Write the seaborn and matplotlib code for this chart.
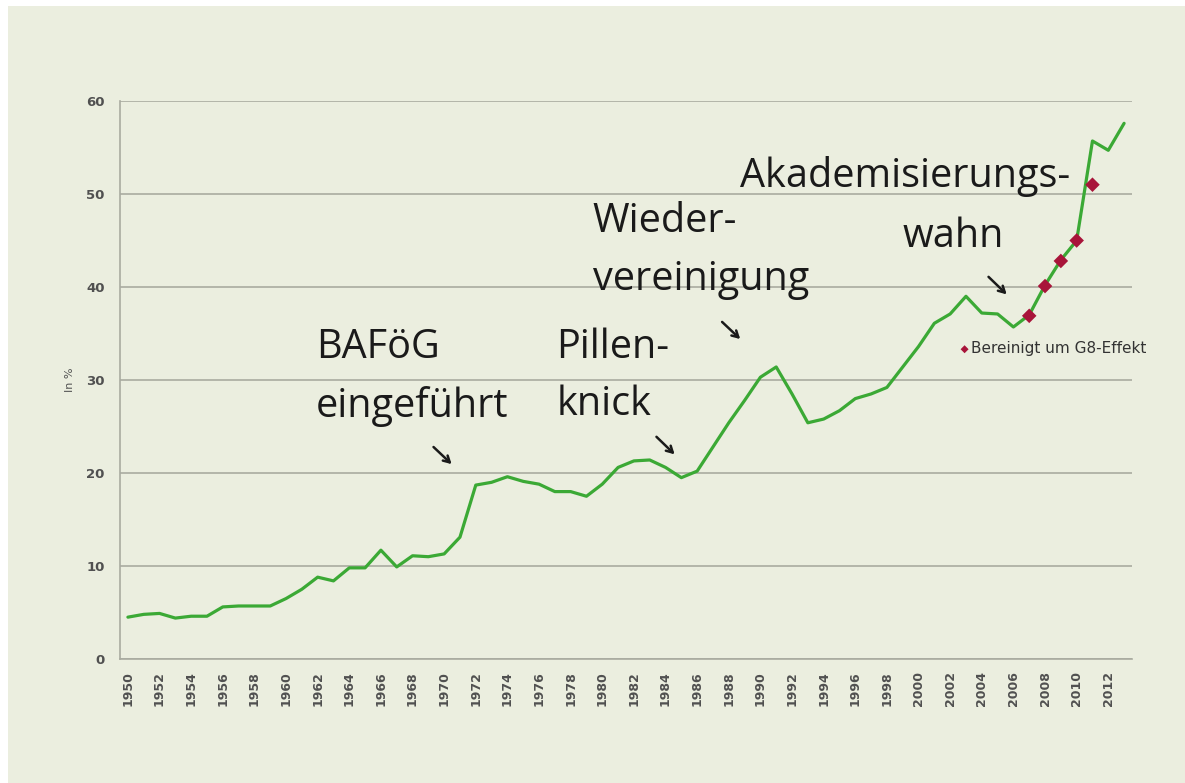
import matplotlib
matplotlib.use("Agg")
import matplotlib.pyplot as plt
import seaborn as sns
import pandas as pd
from matplotlib.patches import Rectangle

# ---- data ----
years = list(range(1950, 2014))
quote = [4.5, 4.8, 4.9, 4.4, 4.6, 4.6, 5.6, 5.7, 5.7, 5.7,
         6.5, 7.5, 8.8, 8.4, 9.8, 9.8, 11.7, 9.9, 11.1, 11.0,
         11.3, 13.1, 18.7, 19.0, 19.6, 19.1, 18.8, 18.0, 18.0, 17.5,
         18.8, 20.6, 21.3, 21.4, 20.6, 19.5, 20.2, 22.8, 25.4, 27.8,
         30.3, 31.4, 28.5, 25.4, 25.8, 26.7, 28.0, 28.5, 29.2, 31.4,
         33.6, 36.1, 37.1, 39.0, 37.2, 37.1, 35.7, 37.0, 40.2, 42.9,
         45.0, 55.7, 54.7, 57.6]
g8_years = [2007, 2008, 2009, 2010, 2011]
g8_quote = [36.9, 40.1, 42.8, 45.0, 51.0]
legend_label = "Bereinigt um G8-Effekt"
y_label = "In %"
y_ticks = [0, 10, 20, 30, 40, 50, 60]
x_tick_years = list(range(1950, 2013, 2))

df = pd.DataFrame({"Jahr": years, "Quote": quote})
dg = pd.DataFrame({"Jahr": g8_years, "Quote": g8_quote})

# ---- style ----
sns.set_style("white")
plt.rcParams["font.family"] = ["Open Sans", "DejaVu Sans"]

BG = "#EBEEDF"
GREEN = "#3BA935"
RED = "#A8143A"
GRID = "#A9ABA0"
TXT = "#505050"

fig = plt.figure(figsize=(11.85, 7.83), dpi=100)
fig.patch.set_facecolor("white")
fig.patches.append(Rectangle((8 / 1185, 0), 1, 1 - 6 / 783, transform=fig.transFigure,
                             facecolor=BG, edgecolor="none", zorder=-10))
ax = fig.add_axes([120 / 1185, 1 - 659 / 783, 1012 / 1185, 558 / 783])
ax.set_facecolor("none")

sns.lineplot(data=df, x="Jahr", y="Quote", color=GREEN, linewidth=2.3, ax=ax, zorder=3)
sns.scatterplot(data=dg, x="Jahr", y="Quote", marker="D", color=RED, s=55,
                edgecolor="none", label=legend_label, ax=ax, zorder=4)

ax.set_xlim(1949.5, 2013.5)
ax.set_ylim(0, 60)
ax.set_yticks(y_ticks)
ax.set_xticks(x_tick_years)
ax.set_xticklabels([str(y) for y in x_tick_years], rotation=90)
ax.set_xticks([y + 0.5 for y in range(1949, 2014)], minor=True)
ax.tick_params(axis="x", which="major", length=0, pad=9, labelsize=9, labelcolor=TXT)
ax.tick_params(axis="x", which="minor", length=5, width=1, color=GRID, direction="out")
ax.tick_params(axis="y", length=5, width=1, color=GRID, pad=6, labelsize=9.5, labelcolor=TXT)
for lab in ax.get_xticklabels() + ax.get_yticklabels():
    lab.set_fontfamily("DejaVu Sans")
    lab.set_fontweight("bold")

ax.grid(axis="y", color=GRID, linewidth=1.2)
ax.grid(axis="x", visible=False)
ax.set_axisbelow(True)
for s in ["top", "right"]:
    ax.spines[s].set_visible(False)
for s in ["left", "bottom"]:
    ax.spines[s].set_color(GRID)
    ax.spines[s].set_linewidth(1.2)

ax.set_xlabel("")
ax.set_ylabel(y_label, fontsize=8, color=TXT, labelpad=8, family="DejaVu Sans")

# annotations
tkw = dict(fontsize=28.5, color="#1A1A1A", ha="left", va="baseline")
ax.text(1961.9, 32.4, "BAFöG", **tkw)
ax.text(1961.9, 26.0, "eingeführt", **tkw)
ax.text(1977.1, 32.4, "Pillen-", **tkw)
ax.text(1977.1, 26.2, "knick", **tkw)
ax.text(1979.4, 45.9, "Wieder-", **tkw)
ax.text(1979.4, 39.7, "vereinigung", **tkw)
ax.text(1988.7, 50.75, "Akademisierungs-", **tkw)
ax.text(1999.0, 44.3, "wahn", **tkw)

akw = dict(arrowstyle="->,head_length=0.45,head_width=0.25", color="#1A1A1A", lw=1.8)
for (x0, y0, x1, y1) in [(1969.2, 23.0, 1970.6, 20.75),
                         (1983.3, 24.1, 1984.7, 21.8),
                         (1987.45, 36.45, 1988.85, 34.2),
                         (2004.3, 41.3, 2005.7, 39.0)]:
    ax.annotate("", xy=(x1, y1), xytext=(x0, y0), arrowprops=akw)

leg = ax.legend(loc="center left", bbox_to_anchor=(0.824, 0.556), frameon=False,
                borderpad=0, handlelength=0.4, handletextpad=0.25, markerscale=0.55,
                prop={"family": "DejaVu Sans", "size": 11})
for t in leg.get_texts():
    t.set_color("#333333")

fig.savefig("out.png", dpi=100, facecolor=fig.get_facecolor())
